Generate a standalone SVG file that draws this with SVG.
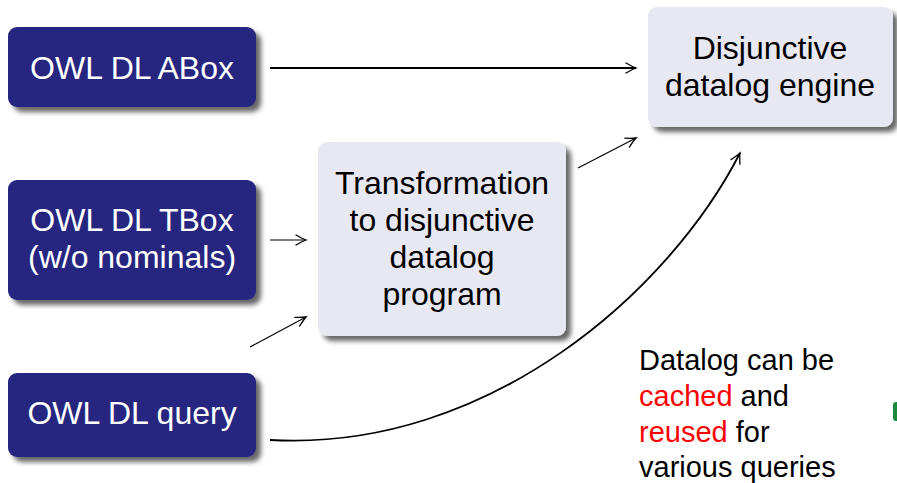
<svg xmlns="http://www.w3.org/2000/svg" width="897" height="483" viewBox="0 0 897 483">
  <defs>
    <filter id="shadow" x="-10%" y="-10%" width="125%" height="130%">
      <feGaussianBlur in="SourceAlpha" stdDeviation="2.5"/>
      <feOffset dx="5" dy="5" result="b"/>
      <feComponentTransfer><feFuncA type="linear" slope="0.6"/></feComponentTransfer>
      <feMerge><feMergeNode/><feMergeNode in="SourceGraphic"/></feMerge>
    </filter>
    <marker id="to" viewBox="-12 -7 14 14" markerWidth="14" markerHeight="14" refX="0" refY="0" orient="auto" markerUnits="userSpaceOnUse">
      <path d="M-10,-5 Q-3,-1 0,0 Q-3,1 -10,5" fill="none" stroke="#000" stroke-width="1.3" stroke-linecap="round"/>
    </marker>
  </defs>
  <style>
    .dark { fill: #262680; filter: url(#shadow); }
    .light { fill: #e8e8f2; filter: url(#shadow); }
    text { font-family: "Liberation Sans", Arial, sans-serif; font-size: 32px; text-anchor: middle; }
    .wt { fill: #ffffff; }
    .bt { fill: #000000; }
    .note { font-size: 29px; text-anchor: start; fill: #000; }
    .red { fill: #ff0000; }
    .edge { fill: none; stroke: #000; marker-end: url(#to); }
  </style>

  <g id="abox">
    <rect class="dark" x="8" y="27" width="248" height="80" rx="9"/>
    <text class="wt" x="132" y="79">OWL DL ABox</text>
  </g>
  <g id="tbox">
    <rect class="dark" x="8" y="180" width="248" height="120" rx="9"/>
    <text class="wt" x="132" y="231">OWL DL TBox</text>
    <text class="wt" x="132" y="268">(w/o nominals)</text>
  </g>
  <g id="query">
    <rect class="dark" x="8" y="373" width="248" height="84" rx="9"/>
    <text class="wt" x="132" y="424">OWL DL query</text>
  </g>
  <g id="transformation">
    <rect class="light" x="318" y="142" width="248" height="194" rx="9"/>
    <text class="bt" x="442" y="194">Transformation</text>
    <text class="bt" x="442" y="231">to disjunctive</text>
    <text class="bt" x="442" y="268">datalog</text>
    <text class="bt" x="442" y="305">program</text>
  </g>
  <g id="engine">
    <rect class="light" x="648" y="7" width="245" height="120" rx="9"/>
    <text class="bt" x="770" y="59">Disjunctive</text>
    <text class="bt" x="770" y="96">datalog engine</text>
  </g>

  <g id="connectors">
    <line class="edge" x1="270" y1="68" x2="636" y2="68" stroke-width="2"/>
    <line class="edge" x1="270" y1="240" x2="306" y2="240" stroke-width="1.2"/>
    <line class="edge" x1="250" y1="347" x2="306" y2="317" stroke-width="1.2"/>
    <line class="edge" x1="578" y1="168" x2="636" y2="138" stroke-width="1.2"/>
    <path class="edge" d="M270,440 C490,452 670,290 740,153" stroke-width="1.8"/>
  </g>

  <g id="note">
    <text class="note" x="639" y="370">Datalog can be</text>
    <text class="note" x="639" y="406"><tspan class="red">cached</tspan> and</text>
    <text class="note" x="639" y="442"><tspan class="red">reused</tspan> for</text>
    <text class="note" x="639" y="477">various queries</text>
  </g>

  <rect x="893" y="402" width="10" height="19" rx="3" fill="#1b8a3c"/>
</svg>
